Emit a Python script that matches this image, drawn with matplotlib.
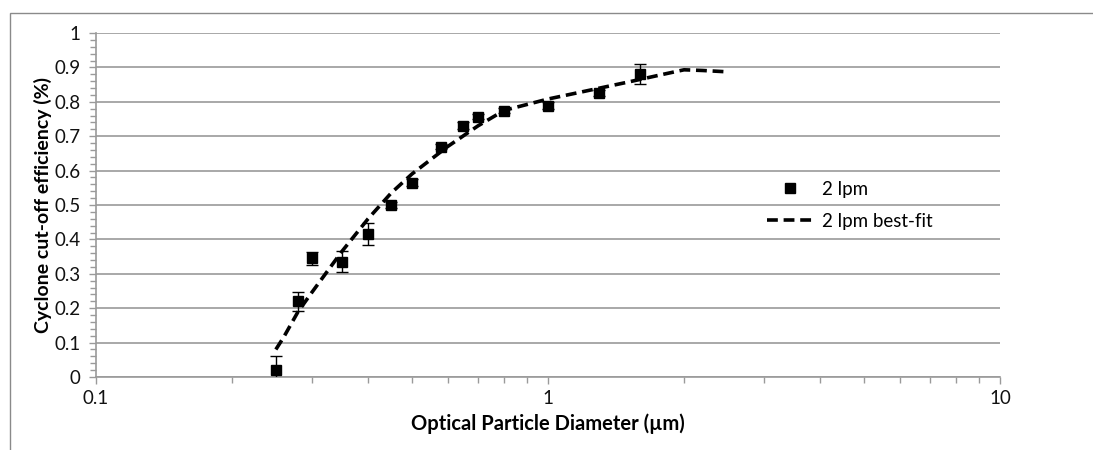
import matplotlib.pyplot as plt
from matplotlib.patches import Rectangle
from matplotlib.ticker import MultipleLocator, LogLocator, FixedLocator, FixedFormatter

plt.rcParams['font.family'] = ['Lato', 'DejaVu Sans']

# measured points (2 lpm)
diam = [0.25, 0.28, 0.30, 0.35, 0.40, 0.45, 0.50, 0.58, 0.65, 0.70, 0.80, 1.0, 1.3, 1.6]
eff = [0.02, 0.22, 0.345, 0.335, 0.417, 0.50, 0.565, 0.67, 0.73, 0.757, 0.774, 0.788, 0.826, 0.881]
err = [0.04, 0.028, 0.018, 0.03, 0.032, 0.01, 0.01, 0.008, 0.01, 0.008, 0.008, 0.01, 0.008, 0.03]

# best-fit curve
fit_d = [0.25, 0.26, 0.28, 0.30, 0.35, 0.40, 0.45, 0.50, 0.60, 0.70, 0.80, 1.0, 1.2, 1.5, 1.8, 2.0, 2.2, 2.5]
fit_e = [0.08, 0.115, 0.19, 0.245, 0.365, 0.46, 0.535, 0.59, 0.67, 0.73, 0.775, 0.808, 0.83, 0.857,
         0.88, 0.893, 0.891, 0.887]

fig = plt.figure(figsize=(10.93, 4.5), dpi=100)
ax = fig.add_axes([0.0878, 0.1622, 0.8271, 0.7645])

grey = '#9a9a9a'
ax.set_xscale('log')
ax.set_xlim(0.1, 10)
ax.set_ylim(0, 1)

ax.yaxis.set_major_locator(MultipleLocator(0.1))
ax.yaxis.set_minor_locator(MultipleLocator(0.02))
ax.yaxis.set_major_formatter(plt.FuncFormatter(lambda v, p: '0' if v == 0 else ('1' if abs(v - 1) < 1e-9 else f'{v:.1f}')))
ax.xaxis.set_major_locator(FixedLocator([0.1, 1, 10]))
ax.xaxis.set_major_formatter(FixedFormatter(['0.1', '1', '10']))
ax.xaxis.set_minor_locator(LogLocator(base=10, subs=range(2, 10)))
ax.xaxis.set_minor_formatter(plt.NullFormatter())

ax.grid(axis='y', which='major', color=grey, lw=1.2)
ax.set_axisbelow(True)
for s in ['top', 'right']:
    ax.spines[s].set_visible(False)
for s in ['left', 'bottom']:
    ax.spines[s].set_color(grey)
    ax.spines[s].set_linewidth(1.2)
ax.tick_params(which='both', direction='out', color=grey, labelsize=13.5, labelcolor='#111111')
ax.tick_params(which='major', length=5, width=1)
ax.tick_params(which='minor', length=4, width=1)
ax.tick_params(axis='x', pad=4)
ax.tick_params(axis='y', pad=6)

ax.errorbar(diam, eff, yerr=err, fmt='none', ecolor='black', elinewidth=1, capsize=4, capthick=1, zorder=3)
ax.plot(diam, eff, 's', color='black', ms=6.5, label='2 lpm', zorder=4)
ax.plot(fit_d, fit_e, color='black', lw=2.6, dashes=(3, 1.6), label='2 lpm best-fit', zorder=3)

ax.set_xlabel('Optical Particle Diameter (µm)', fontsize=14.5, fontweight='bold', labelpad=5)
ax.set_ylabel('Cyclone cut-off efficiency (%)', fontsize=14, fontweight='bold', labelpad=2)

ax.legend(loc='upper left', bbox_to_anchor=(0.724, 0.62), frameon=False, fontsize=13.5,
          handlelength=2.4, handletextpad=0.5, labelspacing=0.82)

fig.patches.append(Rectangle((10 / 1093, -0.1), 2, 0.1 + 1 - 13 / 450, transform=fig.transFigure,
                             fill=False, edgecolor='#8a8a8a', lw=1))

fig.savefig('out.png', dpi=100)
